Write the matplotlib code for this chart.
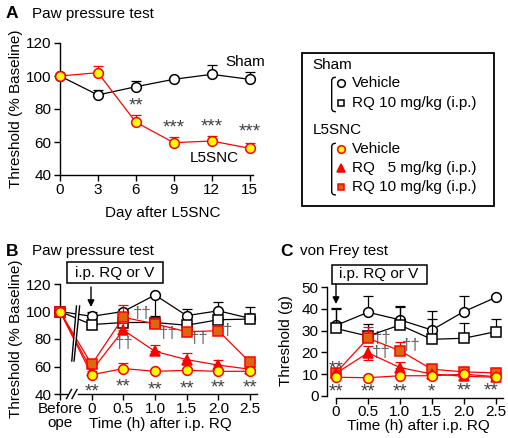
import matplotlib
matplotlib.use('Agg')
import matplotlib.pyplot as plt
from matplotlib.patches import Rectangle, Polygon

plt.rcParams['font.family'] = ['Liberation Sans', 'DejaVu Sans']
plt.rcParams['font.size'] = 11

# ---------------- data ----------------
# Panel A
days_A = [0, 3, 6, 9, 12, 15]
sham_A = [100, 88.5, 93.5, 98, 101, 98]
sham_A_err = [0, 3, 3.7, 0.5, 5.7, 4.4]
snc_A = [100, 102, 72, 59.6, 60.6, 56.2]
snc_A_err = [0, 4, 4.3, 3.3, 2.8, 3]
stars_A = [('**', 6, 85.5), ('***', 9, 72), ('***', 12, 73), ('***', 15, 69.5)]

# Panel B (paw pressure)
time_B = [-0.5, 0, 0.5, 1.0, 1.5, 2.0, 2.5]
tick_labels_B = ['Before', '0', '0.5', '1.0', '1.5', '2.0', '2.5']
shamveh_B = [100, 96.5, 100, 112, 97, 100.5, 95]
shamveh_B_lo = [0, 0, 0, 15, 0, 0, 0]
shamveh_B_up = [0, 3.5, 2, 0, 5, 6.5, 8.5]
shamrq_B = [100, 90.5, 92, 92, 90, 94, 94.5]
shamrq_B_up = [0, 1.5, 1.5, 1.5, 1.5, 1.5, 1.5]
sncveh_B = [100, 54, 58.5, 56.5, 57.2, 56.5, 56.5]
sncveh_B_up = [0, 1.5, 3.8, 1.5, 1.5, 1.5, 1.5]
rq5_B = [100, 57, 86.5, 71, 65, 61, 58]
rq5_B_up = [0, 2, 5, 4.5, 4.5, 3.7, 2]
rq10_B = [100, 61.5, 95.8, 91, 85.3, 86, 63]
rq10_B_up = [0, 2, 9, 2, 2, 2, 2]
stars_B = [('**', 0, 45.8), ('**', 0.5, 49.7), ('**', 1.0, 47.3),
           ('**', 1.5, 48), ('**', 2.0, 48.5), ('**', 2.5, 48.5)]
daggers_B = [('††', 0.52, 77), ('††', 0.8, 98.5), ('††', 1.21, 84.5),
             ('††', 1.7, 80.5), ('†', 2.14, 86.5)]

# Panel C (von Frey)
time_C = [0, 0.5, 1.0, 1.5, 2.0, 2.5]
tick_labels_C = ['0', '0.5', '1.0', '1.5', '2.0', '2.5']
shamveh_C = [32.4, 38.5, 35, 30.3, 38.8, 45.3]
shamveh_C_up = [7.4, 7.5, 6, 8.9, 7.2, 0]
shamrq_C = [31, 27.5, 32.6, 26, 26.5, 29.5]
shamrq_C_up = [9.3, 5.5, 8.8, 9.2, 6.9, 5.7]
sncveh_C = [8.5, 8.3, 9.2, 9.2, 9.9, 8.8]
sncveh_C_up = [0, 0, 0, 0, 0, 0]
rq5_C = [10.3, 19.8, 13, 10, 9, 8.5]
rq5_C_lo = [0, 3.2, 0, 0, 0, 0]
rq5_C_up = [0, 3.2, 2.4, 0, 0, 0]
rq10_C = [10.6, 26.5, 20.8, 12.2, 11, 10.5]
rq10_C_up = [0, 5.3, 4.1, 0, 0, 0]
stars_C = [('**', 0, 15), ('**', 0, 4.3), ('**', 0.5, 4.3), ('**', 1.0, 4.3),
           ('*', 1.5, 4.3), ('**', 2.0, 4.9), ('**', 2.43, 4.9)]
daggers_C = [('††', 0.73, 26.5), ('††', 0.7, 20.3), ('††', 1.18, 23.4)]

# ---------------- styles ----------------
RED = '#FF0000'
YEL = '#FFFF00'
ORA = '#DD6611'
STAR_C = '#404040'
DAG_C = '#606060'
LW = 0.9

W, H = 508, 438
fig = plt.figure(figsize=(W / 100, H / 100), dpi=100)


def ax_px(l, t, r, b):
    return fig.add_axes([l / W, 1 - b / H, (r - l) / W, (b - t) / H])


def style(ax):
    for s in ('top', 'right'):
        ax.spines[s].set_visible(False)
    for s in ('left', 'bottom'):
        ax.spines[s].set_linewidth(1.0)
    ax.tick_params(direction='out', length=4, width=1.0, labelsize=11, pad=2)


def series(ax, x, y, lo, up, marker, mfc, mec, color, ms, z):
    ax.errorbar(x, y, yerr=[lo, up], fmt='none', ecolor=color, elinewidth=LW,
                capsize=3.5, capthick=LW, zorder=z, clip_on=False)
    ax.plot(x, y, color=color, lw=LW, marker=marker, ms=ms, mfc=mfc, mec=mec,
            mew=1.1, zorder=z + 0.5, clip_on=False)


def star(ax, s, x, y, color=STAR_C):
    ax.annotate(s, (x, y), xytext=(0, -7.6), textcoords='offset points',
                ha='center', va='baseline', color=color, fontsize=13.5,
                annotation_clip=False)


def dagger(ax, s, x, y):
    ax.annotate(s, (x, y), xytext=(0, -3.5), textcoords='offset points',
                ha='center', va='baseline', color=DAG_C, fontsize=12,
                annotation_clip=False)


zeros7 = [0] * 7
zeros6 = [0] * 6

# ---------------- Panel A ----------------
axA = ax_px(60, 43, 253, 175)
style(axA)
axA.set_xlim(0, 15.27)
axA.set_ylim(40, 120)
axA.set_xticks(days_A)
axA.set_yticks([40, 60, 80, 100, 120])
series(axA, days_A, sham_A, [0] * 6, sham_A_err, 'o', 'white', 'black', 'black', 7, 3)
series(axA, days_A, snc_A, [0] * 6, snc_A_err, 'o', YEL, RED, RED, 7, 5)
for s, x, y in stars_A:
    star(axA, s, x, y)
axA.text(13.05, 108.7, 'Sham', ha='left', va='center', fontsize=11, clip_on=False)
axA.text(10.3, 50.3, 'L5SNC', ha='left', va='center', fontsize=11, clip_on=False)

# ---------------- Panel B ----------------
axB = ax_px(60, 284, 257, 394)
style(axB)
axB.spines['bottom'].set_visible(False)
axB.set_xlim(-0.5, 2.61)
axB.set_ylim(40, 120)
axB.set_xticks(time_B)
axB.set_xticklabels(tick_labels_B)
axB.set_yticks([40, 60, 80, 100, 120])
series(axB, time_B, shamveh_B, shamveh_B_lo, shamveh_B_up, 'o', 'white', 'black', 'black', 7, 2)
series(axB, time_B, shamrq_B, zeros7, shamrq_B_up, 's', 'white', 'black', 'black', 6.5, 3)
series(axB, time_B, rq5_B, zeros7, rq5_B_up, '^', RED, RED, RED, 7, 5)
series(axB, time_B, rq10_B, zeros7, rq10_B_up, 's', ORA, RED, RED, 6.5, 6)
series(axB, time_B, sncveh_B, zeros7, sncveh_B_up, 'o', YEL, RED, RED, 7, 7)
for s, x, y in stars_B:
    star(axB, s, x, y)
for s, x, y in daggers_B:
    dagger(axB, s, x, y)
# break band over the lines
band = Polygon([(-0.314, 64), (-0.24, 104), (-0.19, 104), (-0.278, 64)],
               closed=True, facecolor='white', edgecolor='none', zorder=20, clip_on=False)
axB.add_patch(band)
axB.plot([-0.314, -0.24], [64, 104], color='black', lw=1.0, zorder=21, clip_on=False)
axB.plot([-0.278, -0.19], [64, 104], color='black', lw=1.0, zorder=21, clip_on=False)
# broken x axis
xt = axB.get_xaxis_transform()
axB.plot([-0.5, -0.39], [0, 0], transform=xt, color='black', lw=1.0, clip_on=False)
axB.plot([-0.21, 2.61], [0, 0], transform=xt, color='black', lw=1.0, clip_on=False)

# ---------------- Panel C ----------------
axC = ax_px(327, 287.3, 505, 395.7)
style(axC)
axC.tick_params(axis='x', pad=1)
axC.set_xlim(-0.141, 2.645)
axC.set_ylim(0, 50)
axC.spines['bottom'].set_position(('outward', 1.5))
axC.spines['bottom'].set_bounds(0, 2.61)
axC.set_xticks(time_C)
axC.set_xticklabels(tick_labels_C)
axC.set_yticks([0, 10, 20, 30, 40, 50])
series(axC, time_C, shamveh_C, zeros6, shamveh_C_up, 'o', 'white', 'black', 'black', 7, 2)
series(axC, time_C, shamrq_C, zeros6, shamrq_C_up, 's', 'white', 'black', 'black', 6.5, 3)
series(axC, time_C, rq10_C, zeros6, rq10_C_up, 's', ORA, RED, RED, 6.5, 5)
series(axC, time_C, rq5_C, rq5_C_lo, rq5_C_up, '^', RED, RED, RED, 7, 6)
series(axC, time_C, sncveh_C, zeros6, sncveh_C_up, 'o', YEL, RED, RED, 7, 7)
for s, x, y in stars_C:
    star(axC, s, x, y)
for s, x, y in daggers_C:
    dagger(axC, s, x, y)

# ---------------- overlay (pixel coordinates) ----------------
ov = fig.add_axes([0, 0, 1, 1])
ov.set_xlim(0, W)
ov.set_ylim(H, 0)
ov.axis('off')

# panel titles
ov.text(6, 14, 'A', fontsize=12.5, fontweight='bold', ha='left', va='center')
ov.text(32, 14, 'Paw pressure test', fontsize=11, ha='left', va='center')
ov.text(6, 251, 'B', fontsize=12.5, fontweight='bold', ha='left', va='center')
ov.text(32, 251, 'Paw pressure test', fontsize=11, ha='left', va='center')
ov.text(280, 251, 'C', fontsize=12.5, fontweight='bold', ha='left', va='center')
ov.text(300, 251, 'von Frey test', fontsize=11, ha='left', va='center')

# axis labels
ov.text(16, 109, 'Threshold (% Baseline)', rotation=90, ha='center', va='center', fontsize=11)
ov.text(163, 213, 'Day after L5SNC', ha='center', va='center', fontsize=11)
ov.text(16, 339, 'Threshold (% Baseline)', rotation=90, ha='center', va='center', fontsize=11)
ov.text(160, 424, 'Time (h) after i.p. RQ', ha='center', va='center', fontsize=11)
ov.text(60, 423, 'ope', ha='center', va='center', fontsize=11)
ov.text(286, 341, 'Threshold (g)', rotation=90, ha='center', va='center', fontsize=11)
ov.text(418, 426, 'Time (h) after i.p. RQ', ha='center', va='center', fontsize=11)

# axis break marks on B x axis
ov.plot([66.5, 71.5], [398.5, 389.5], color='black', lw=1.0)
ov.plot([72, 77], [398.5, 389.5], color='black', lw=1.0)

# i.p. RQ or V boxes and arrows
ov.add_patch(Rectangle((67, 262), 96, 21, facecolor='white', edgecolor='black', lw=1.1))
ov.text(115, 272.5, 'i.p. RQ or V', ha='center', va='center', fontsize=11)
ov.annotate('', xy=(91, 307), xytext=(91, 287),
            arrowprops=dict(arrowstyle='-|>', mutation_scale=10, lw=1.0, color='black',
                            shrinkA=0, shrinkB=0))
ov.add_patch(Rectangle((331.7, 265), 95, 18.5, facecolor='white', edgecolor='black', lw=1.1))
ov.text(379, 274.3, 'i.p. RQ or V', ha='center', va='center', fontsize=11)
ov.annotate('', xy=(336, 304), xytext=(336, 284),
            arrowprops=dict(arrowstyle='-|>', mutation_scale=10, lw=1.0, color='black',
                            shrinkA=0, shrinkB=0))

# legend
ov.add_patch(Rectangle((301.7, 52.7), 192.3, 153, facecolor='none', edgecolor='black', lw=1.3))


def bracket(x, y0, y1):
    ov.plot([x + 3.5, x + 1.2, x, x, x + 1.2, x + 3.5],
            [y0, y0 + 0.6, y0 + 2.5, y1 - 2.5, y1 - 0.6, y1], color='black', lw=1.0)


ov.text(312.7, 65, 'Sham', ha='left', va='center', fontsize=11)
bracket(331.7, 77.3, 111.7)
ov.plot([340.7], [83.3], marker='o', ms=5.5, mfc='white', mec='black', mew=1.1)
ov.text(352, 83.3, 'Vehicle', ha='left', va='center', fontsize=11)
ov.plot([340.7], [103.3], marker='s', ms=5, mfc='white', mec='black', mew=1.1)
ov.text(352, 103.3, 'RQ 10 mg/kg (i.p.)', ha='left', va='center', fontsize=11)
ov.text(312.7, 130, 'L5SNC', ha='left', va='center', fontsize=11)
bracket(331.7, 143.3, 195)
ov.plot([340.7], [149.3], marker='o', ms=5.5, mfc=YEL, mec=RED, mew=1.1)
ov.text(352, 149.3, 'Vehicle', ha='left', va='center', fontsize=11)
ov.plot([340.7], [168.3], marker='^', ms=6, mfc=RED, mec=RED, mew=1.1)
ov.text(352, 168.3, 'RQ   5 mg/kg (i.p.)', ha='left', va='center', fontsize=11)
ov.plot([340.7], [186.7], marker='s', ms=5, mfc=ORA, mec=RED, mew=1.1)
ov.text(352, 186.7, 'RQ 10 mg/kg (i.p.)', ha='left', va='center', fontsize=11)

fig.savefig('out.png', dpi=100)
